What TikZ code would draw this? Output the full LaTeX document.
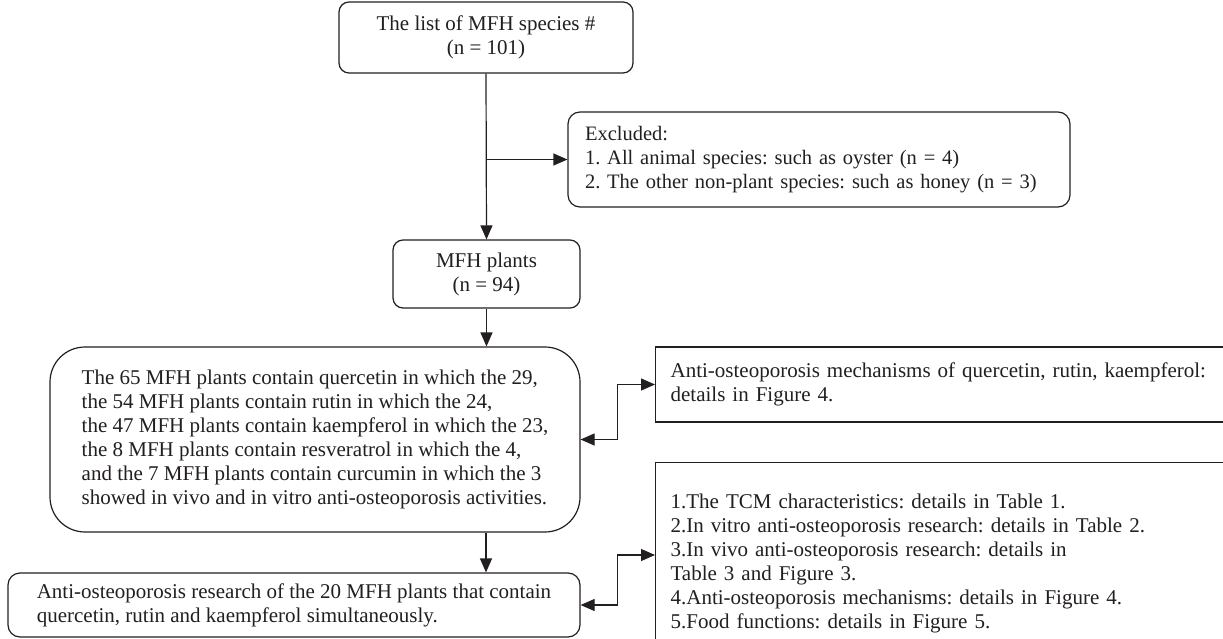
\documentclass[tikz,border=0pt]{standalone}
\usepackage{fontspec}
\setmainfont{Liberation Serif}
\usetikzlibrary{arrows.meta}
\definecolor{ink}{HTML}{231F20}
\tikzset{
  box/.style={draw=ink, line width=1.2pt, text=ink, font=\fontsize{21}{24}\selectfont\frenchspacing, inner sep=0pt},
  rbox/.style={box, rounded corners=10pt},
  tip/.tip={Triangle[length=14pt,width=12pt]},
  arr/.style={draw=ink, line width=1.2pt, -tip},
  darr/.style={draw=ink, line width=1.2pt, tip-tip}
}
\begin{document}
\begin{tikzpicture}[x=1pt,y=-1pt]
\useasboundingbox (0,0) rectangle (1223,639);
\clip (0,0) rectangle (1223,639);
\fill[white] (0,0) rectangle (1223,639);

\node[rbox, minimum width=294pt, minimum height=71pt, align=center] (top) at (486,37.5)
  {The list of MFH species \#\\(n = 101)};

\node[rbox, rounded corners=12pt, minimum width=502pt, minimum height=95pt, inner xsep=17pt, text width=468pt, align=left, font=\fontsize{20.5}{24}\selectfont\frenchspacing] (excl) at (819,159.5)
  {Excluded:\\1. All animal species: such as oyster (n = 4)\\2. The other non-plant species: such as honey (n = 3)};

\node[rbox, minimum width=187pt, minimum height=68pt, align=center] (mfh) at (486.5,274)
  {MFH plants\\(n = 94)};

\node[rbox, rounded corners=35pt, minimum width=530pt, minimum height=185pt, align=left] (big) at (315,439.5)
  {The 65 MFH plants contain quercetin in which the 29,\\
   the 54 MFH plants contain rutin in which the 24,\\
   the 47 MFH plants contain kaempferol in which the 23,\\
   the 8 MFH plants contain resveratrol in which the 4,\\
   and the 7 MFH plants contain curcumin in which the 3\\
   showed in vivo and in vitro anti-osteoporosis activities.};

\node[rbox, rounded corners=12pt, minimum width=572pt, minimum height=64pt, align=left] (bot) at (294,605)
  {Anti-osteoporosis research of the 20 MFH plants that contain\\
   quercetin, rutin and kaempferol simultaneously.};

\node[box, anchor=west, minimum width=600pt, minimum height=75pt, inner xsep=15pt, text width=570pt, align=left] (tr) at (655,384.5)
  {Anti-osteoporosis mechanisms of quercetin, rutin, kaempferol:\\details in Figure 4.};

\node[box, anchor=north west, minimum width=600pt, inner xsep=15pt, text width=570pt, inner ysep=31pt, align=left] (br) at (655,462)
  {1.The TCM characteristics: details in Table 1.\\
   2.In vitro anti-osteoporosis research: details in Table 2.\\
   3.In vivo anti-osteoporosis research: details in\\
   Table 3 and Figure 3.\\
   4.Anti-osteoporosis mechanisms: details in Figure 4.\\
   5.Food functions: details in Figure 5.};
\coordinate (brin) at (655,555);

\draw[arr] (top.south) -- (mfh.north);
\draw[arr] (top.south |- excl.west) -- (excl.west);
\draw[arr] (mfh.south) -- (mfh.south |- big.north);
\draw[arr] (big.south -| top.south) -- (bot.north -| top.south);
\draw[darr] (big.east) -- ++(37,0) |- (tr.west);
\draw[darr] (bot.east) -- ++(37,0) |- (brin);
\end{tikzpicture}
\end{document}
